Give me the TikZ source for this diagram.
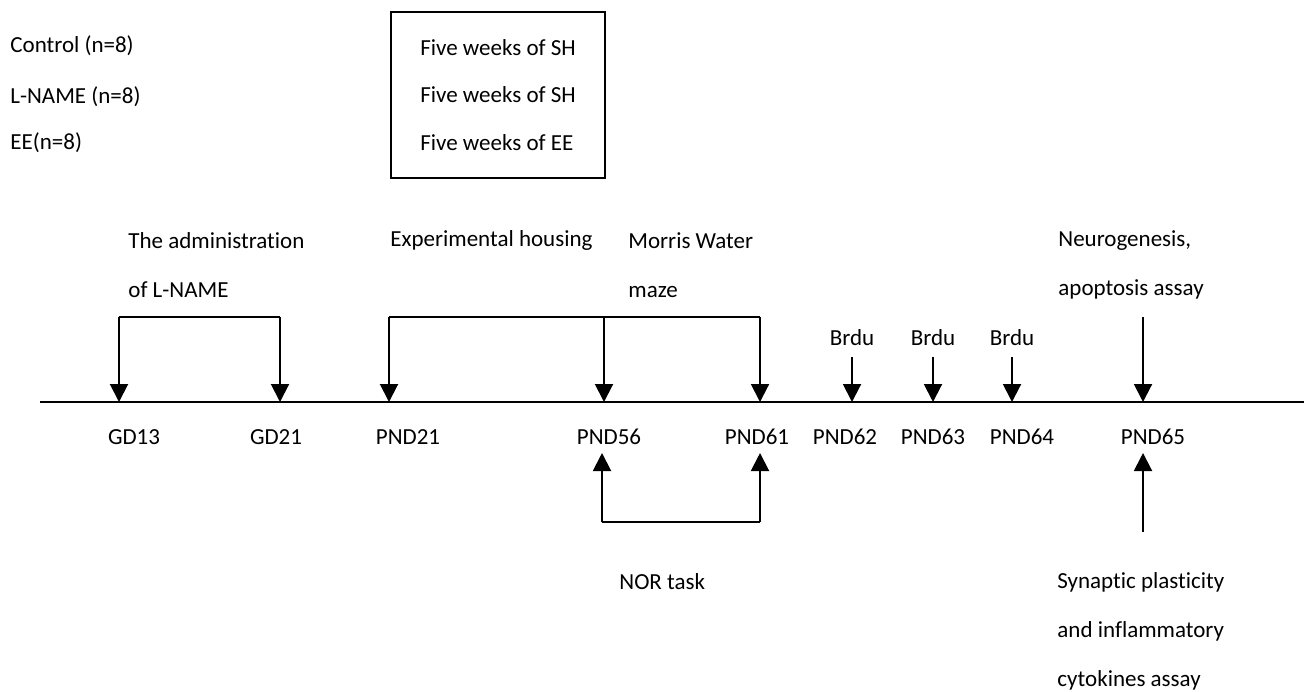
\documentclass[tikz,border=0pt]{standalone}
\usepackage{fontspec}
\setmainfont{Carlito}[Ligatures={NoCommon}]
\usetikzlibrary{arrows.meta,positioning}

\begin{document}
\begin{tikzpicture}[x=0.5pt, y=-0.5pt, font=\fontsize{11.5}{24.5}\selectfont]
    % Styles
    \tikzstyle{txt} = [anchor=west, align=left, inner sep=0pt]
    \tikzstyle{day} = [inner sep=0pt]
    \tikzstyle{arrow} = [-{Triangle[width=9pt,length=9pt]}, line width=1pt]
    \tikzstyle{line} = [line width=1pt]

    \useasboundingbox (0,0) rectangle (1304,691);

    % Groups and housing
    \node [txt] (ctrl) at (10,46) {Control (n=8)};
    \node [txt] (lname) at (10,97) {L-NAME (n=8)};
    \node [txt] (ee) at (10,143) {EE(n=8)};
    \node [draw, line width=1.3pt, minimum width=107pt, minimum height=83pt, align=left,
           font=\fontsize{11.5}{23.75}\selectfont] (housing) at (498,95)
          {Five weeks of SH\\Five weeks of SH\\Five weeks of EE};

    % Timeline
    \coordinate (tl0) at (40,402);
    \coordinate (tl1) at (1304,402);
    \draw [line width=1.2pt] (tl0) -- (tl1);
    \foreach \n/\x in {GD13/119, GD21/280, PND21/389, PND56/604, PND61/760,
                       PND62/852, PND63/933, PND64/1012, PND65/1143}
        \coordinate (t\n) at (\x,402);
    \foreach \n/\x in {GD13/134, GD21/276, PND21/408, PND56/609, PND61/757,
                       PND62/845, PND63/933, PND64/1022, PND65/1153}
        \node [day] (l\n) at (\x,437) {\n};

    % Events above
    \node [txt] (admin) at (128,265) {The administration\\of L-NAME};
    \node [txt] (exph) at (390,240) {Experimental housing};
    \node [txt] (mwm) at (628,265) {Morris Water\\maze};
    \node [txt] (neuro) at (1058,265) {Neurogenesis,\\apoptosis assay};
    \foreach \n/\x in {62/852, 63/933, 64/1012}
        \node [day] (brdu\n) at (\x,338) {Brdu};

    % Events below
    \node [txt] (nor) at (619,582) {NOR task};
    \node [txt] (syn) at (1057,631) {Synaptic plasticity\\and inflammatory\\cytokines assay};

    % L-NAME bracket
    \coordinate (la) at (119,317);
    \coordinate (lb) at (280,317);
    \draw [line] (la) -- (lb);
    \draw [arrow] (la) -- (tGD13);
    \draw [arrow] (lb) -- (tGD21);

    % Housing and water maze bracket
    \coordinate (ha) at (389,317);
    \coordinate (hb) at (604,317);
    \coordinate (hc) at (760,317);
    \draw [line] (ha) -- (hc);
    \draw [arrow] (ha) -- (tPND21);
    \draw [arrow] (hb) -- (tPND56);
    \draw [arrow] (hc) -- (tPND61);

    % Brdu
    \foreach \n/\x in {62/852, 63/933, 64/1012} {
        \coordinate (b\n) at (\x,357);
        \draw [arrow] (b\n) -- (tPND\n);
    }

    % PND65 assays
    \coordinate (na) at (1143,317);
    \draw [arrow] (na) -- (tPND65);
    \coordinate (sa) at (1143,532);
    \coordinate (sb) at (1143,453);
    \draw [arrow] (sa) -- (sb);

    % NOR bracket
    \coordinate (ra) at (602,522);
    \coordinate (rb) at (760,522);
    \coordinate (ua) at (602,453);
    \coordinate (ub) at (760,453);
    \draw [line] (ra) -- (rb);
    \draw [arrow] (ra) -- (ua);
    \draw [arrow] (rb) -- (ub);
\end{tikzpicture}
\end{document}
